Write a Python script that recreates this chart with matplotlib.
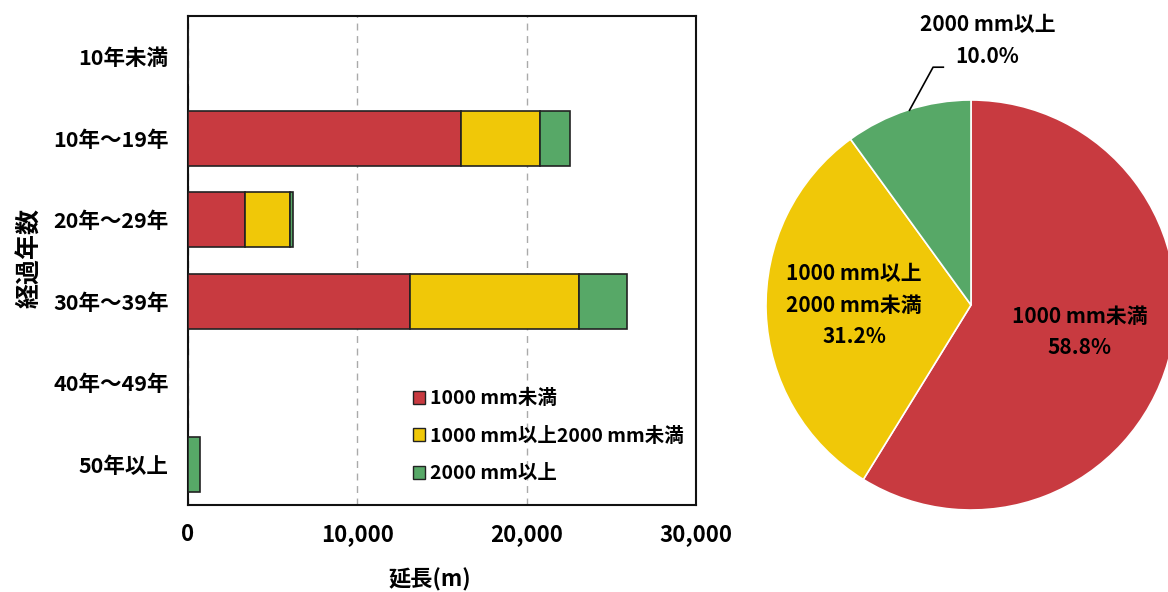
import matplotlib
matplotlib.use("Agg")
import matplotlib.pyplot as plt
from matplotlib.patches import Patch

plt.rcParams['font.family'] = ['Noto Sans CJK JP', 'DejaVu Sans']
plt.rcParams['font.weight'] = 'bold'

# Pipe length by age class and diameter class (m)
age_classes = ["10年未満", "10年～19年", "20年～29年", "30年～39年", "40年～49年", "50年以上"]
under_1000 = [0, 16100, 3360, 13120, 0, 0]
from_1000_to_2000 = [0, 4670, 2640, 9960, 0, 0]
over_2000 = [0, 1800, 200, 2840, 0, 690]

series_names = ["1000 mm未満", "1000 mm以上2000 mm未満", "2000 mm以上"]
colors = ["#C83A40", "#F0C808", "#57A867"]

# Share of total length by diameter class (%)
pie_labels = ["1000 mm未満", "1000 mm以上\n2000 mm未満", "2000 mm以上"]
pie_shares = [58.8, 31.2, 10.0]

x_ticks = [0, 10000, 20000, 30000]
x_ticklabels = ["0", "10,000", "20,000", "30,000"]

fig = plt.figure(figsize=(11.68, 5.92), dpi=100)

# ---- stacked horizontal bars ----
ax = fig.add_axes([188 / 1168, 87 / 592, 508 / 1168, 489 / 592])
ypos = list(range(len(age_classes)))
left = [0] * len(age_classes)
for vals, col in zip([under_1000, from_1000_to_2000, over_2000], colors):
    ax.barh(ypos, vals, left=left, height=0.67, color=col,
            edgecolor="#222222", linewidth=1.2, zorder=3)
    left = [a + b for a, b in zip(left, vals)]

ax.set_ylim(len(age_classes) - 0.5, -0.5)
ax.set_xlim(0, 30000)
ax.set_yticks(ypos)
ax.set_yticklabels(age_classes, fontsize=15.5, fontweight='bold')
ax.set_xticks(x_ticks)
ax.set_xticklabels(x_ticklabels, fontsize=16, fontweight='bold')
ax.tick_params(length=0, pad=14)
ax.tick_params(axis='x', pad=13)
ax.xaxis.grid(True, linestyle=(0, (5, 4)), color="#AAAAAA", linewidth=1.0, zorder=0)
for s in ax.spines.values():
    s.set_linewidth(1.5)
    s.set_color("#111111")

fig.text(430 / 1168, 1 - 580 / 592, "延長(m)", fontsize=16, fontweight='bold',
         ha='center', va='center')
fig.text(30 / 1168, 1 - 258 / 592, "経過年数", rotation=90, fontsize=18,
         fontweight='bold', ha='center', va='center')

handles = [Patch(facecolor=c, edgecolor="#222222", linewidth=1.0) for c in colors]
ax.legend(handles, series_names, loc='center left', bbox_to_anchor=(0.423, 0.141),
          frameon=False, handlelength=0.65, handleheight=0.65,
          handletextpad=0.25, labelspacing=0.95, borderpad=0,
          prop={'weight': 'bold', 'size': 14})

# ---- pie of diameter shares ----
R = 205
cx, cy = 971, 592 - 305
pax = fig.add_axes([(cx - R) / 1168, (cy - R) / 592, 2 * R / 1168, 2 * R / 592])
wedges, _ = pax.pie(pie_shares, colors=colors, startangle=90, counterclock=False,
                    radius=1.0, wedgeprops=dict(edgecolor="white", linewidth=1.2))
for w in wedges:
    w.set_clip_on(False)
pax.set_xlim(-1, 1)
pax.set_ylim(-1, 1)
pax.set_aspect('equal')
pax.axis('off')

txt = dict(fontsize=15, fontweight='bold', ha='center', va='center',
           linespacing=1.6, clip_on=False)
pax.text(0.53, -0.13, f"{pie_labels[0]}\n{pie_shares[0]:.1f}%", **txt)
pax.text(-0.57, 0.0, f"{pie_labels[1]}\n{pie_shares[1]:.1f}%", **txt)
pax.text(0.08, 1.29, f"{pie_labels[2]}\n{pie_shares[2]:.1f}%", **txt)
pax.plot([-0.30, -0.185, -0.135], [0.95, 1.16, 1.16], color="black",
         linewidth=1.2, clip_on=False)

fig.savefig("out.png", dpi=100)
